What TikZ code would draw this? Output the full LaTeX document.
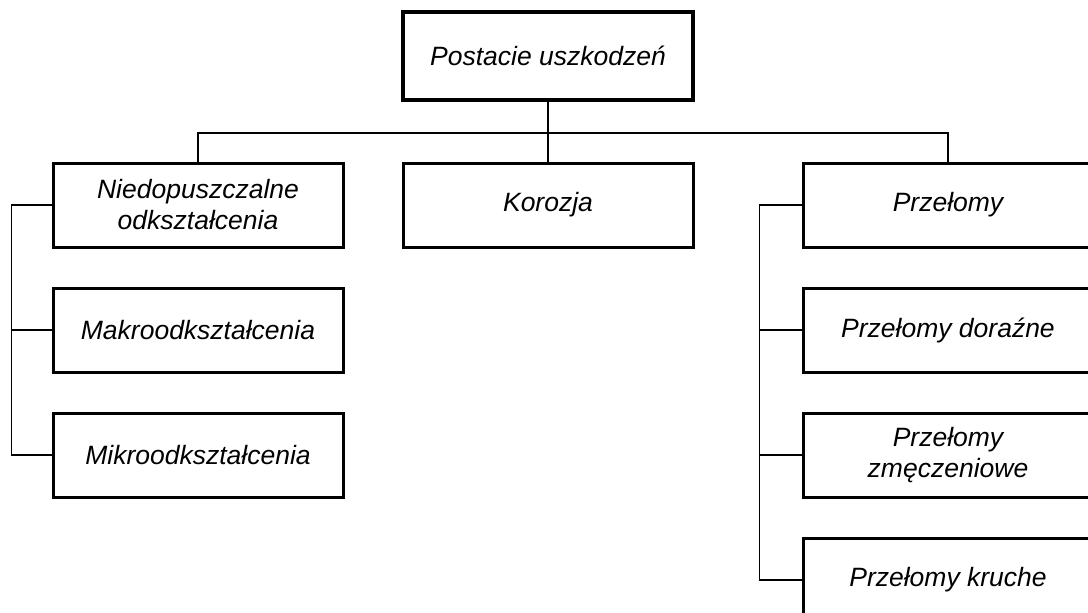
\documentclass[tikz,border=0pt]{standalone}
\usepackage{fontspec}
\setmainfont{Liberation Sans}
\usetikzlibrary{positioning}
\tikzset{box/.style={draw,line width=3pt,minimum width=290pt,minimum height=84pt,inner sep=0pt,align=center,font=\fontsize{26.5}{31}\selectfont\itshape},
link/.style={line width=1.6pt}}
\begin{document}
\begin{tikzpicture}[x=1pt,y=-1pt]
\useasboundingbox (0,0) rectangle (1088,613);
\clip (0,0) rectangle (1088,613);
\node[box,line width=4.5pt,minimum height=88pt] (root) at (548,56) {Postacie uszkodzeń};
\node[box] (niedo) at (198,205) {Niedopuszczalne\\odkształcenia};
\node[box] (koro) at (548,205) {Korozja};
\node[box] (prze) at (948,205) {Przełomy};
\node[box,below=38pt of niedo] (makro) {Makroodkształcenia};
\node[box,below=38pt of makro] (mikro) {Mikroodkształcenia};
\node[box,below=38pt of prze] (dor) {Przełomy doraźne};
\node[box,below=38pt of dor] (zm) {Przełomy\\zmęczeniowe};
\node[box,below=38pt of zm] (kru) {Przełomy kruche};
\draw[link] (root.south) -- ++(0,31) coordinate (bus);
\draw[link] (niedo.north) |- (bus) -| (prze.north);
\draw[link] (bus) -- (koro.north);
\draw[link] (niedo.west) -- ++(-40,0) coordinate (l1) |- (mikro.west);
\draw[link] (makro.west) -- (makro.west -| l1);
\draw[link] (prze.west) -- ++(-42,0) coordinate (r1) |- (kru.west);
\foreach \n in {dor,zm}\draw[link] (\n.west) -- (\n.west -| r1);
\end{tikzpicture}
\end{document}
